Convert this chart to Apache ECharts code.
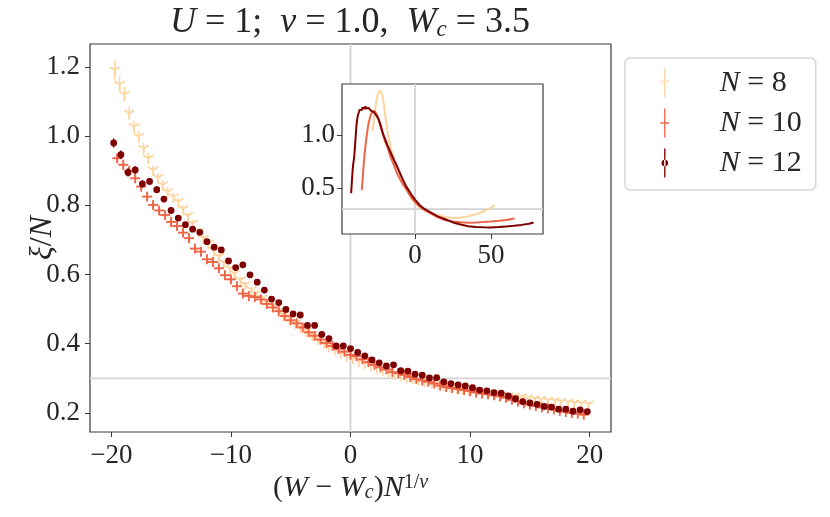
<!DOCTYPE html>
<html><head><meta charset="utf-8">
<script src="https://cdn.jsdelivr.net/npm/echarts@6/dist/echarts.min.js"></script>
<style>html,body{margin:0;padding:0;background:#fff}#c{width:830px;height:517px}</style>
</head><body><div id="c"></div>
<script>
const seriesNames = ['N = 8', 'N = 10', 'N = 12'];
const colors = ['#fdd49e', '#ef6548', '#7f0000'];

const mainXTicks = [-20, -10, 0, 10, 20];
const mainYTicks = [0.2, 0.4, 0.6, 0.8, 1.0, 1.2];
const insetXTicks = [0, 50];
const insetYTicks = [0.5, 1.0];
const refX = 0;
const refY = 0.3;

const n8X = [-19.7,-19.3,-18.9,-18.5,-18.1,-17.7,-17.3,-16.9,-16.5,-16.1,-15.7,-15.3,-14.8,-14.4,-14.0,-13.6,-13.2,-12.7,-12.3,-11.9,-11.4,-11.0,-10.6,-10.1,-9.7,-9.2,-8.8,-8.3,-7.9,-7.4,-7.0,-6.5,-6.0,-5.6,-5.1,-4.6,-4.2,-3.7,-3.2,-2.7,-2.2,-1.8,-1.3,-0.8,-0.3,0.2,0.7,1.2,1.7,2.2,2.7,3.2,3.7,4.2,4.7,5.2,5.7,6.2,6.8,7.3,7.8,8.3,8.9,9.4,9.9,10.5,11.0,11.5,12.1,12.6,13.2,13.7,14.3,14.8,15.4,15.9,16.5,17.1,17.6,18.2,18.7,19.3,19.9];
const n8Y = [1.191,1.150,1.121,1.066,1.027,0.999,0.965,0.936,0.902,0.880,0.859,0.840,0.825,0.811,0.790,0.770,0.748,0.725,0.705,0.690,0.670,0.652,0.635,0.618,0.603,0.585,0.572,0.557,0.545,0.532,0.520,0.508,0.496,0.484,0.472,0.460,0.449,0.437,0.425,0.413,0.402,0.393,0.383,0.374,0.366,0.358,0.351,0.344,0.337,0.331,0.325,0.319,0.314,0.309,0.304,0.300,0.296,0.292,0.288,0.284,0.280,0.277,0.273,0.270,0.267,0.264,0.261,0.258,0.256,0.253,0.250,0.248,0.246,0.243,0.241,0.239,0.237,0.235,0.233,0.231,0.229,0.228,0.226];
const n8Err = [0.027,0.023,0.021,0.019,0.018,0.017,0.016,0.015,0.014,0.013,0.013,0.012,0.012,0.011,0.011,0.010,0.010,0.010,0.009,0.009,0.009,0.009,0.008,0.008,0.008,0.008,0.007,0.007,0.007,0.007,0.007,0.006,0.006,0.006,0.006,0.006,0.006,0.005,0.005,0.005,0.005,0.005,0.005,0.005,0.005,0.005,0.004,0.004,0.004,0.004,0.004,0.004,0.004,0.004,0.004,0.004,0.004,0.004,0.004,0.004,0.004,0.004,0.004,0.004,0.004,0.004,0.004,0.004,0.004,0.004,0.004,0.004,0.004,0.004,0.004,0.004,0.004,0.004,0.004,0.004,0.004,0.004,0.004];

const n10X = [-19.5,-19.0,-18.5,-18.0,-17.5,-17.0,-16.5,-16.0,-15.5,-15.0,-14.5,-14.0,-13.5,-13.0,-12.5,-12.0,-11.5,-11.0,-10.5,-10.0,-9.5,-9.0,-8.5,-8.0,-7.5,-7.0,-6.5,-6.0,-5.5,-5.0,-4.5,-4.0,-3.5,-3.0,-2.5,-2.0,-1.5,-1.0,-0.5,0.0,0.5,1.0,1.5,2.0,2.5,3.0,3.5,4.0,4.5,5.0,5.5,6.0,6.5,7.0,7.5,8.0,8.5,9.0,9.5,10.0,10.5,11.0,11.5,12.0,12.5,13.0,13.5,14.0,14.5,15.0,15.5,16.0,16.5,17.0,17.5,18.0,18.5,19.0,19.5];
const n10Y = [0.936,0.917,0.899,0.878,0.854,0.825,0.801,0.785,0.772,0.752,0.740,0.721,0.705,0.675,0.666,0.644,0.636,0.618,0.598,0.586,0.566,0.545,0.538,0.535,0.528,0.515,0.505,0.494,0.480,0.468,0.459,0.447,0.433,0.423,0.412,0.402,0.394,0.385,0.377,0.368,0.364,0.355,0.347,0.339,0.332,0.326,0.318,0.315,0.310,0.304,0.298,0.294,0.290,0.285,0.279,0.275,0.272,0.269,0.266,0.263,0.259,0.256,0.254,0.251,0.248,0.244,0.238,0.233,0.228,0.224,0.220,0.216,0.213,0.210,0.206,0.203,0.200,0.198,0.195];
const n10Err = [0.012,0.011,0.011,0.010,0.010,0.009,0.009,0.009,0.008,0.008,0.008,0.008,0.007,0.007,0.007,0.007,0.007,0.006,0.006,0.006,0.006,0.006,0.006,0.005,0.005,0.005,0.005,0.005,0.005,0.005,0.005,0.005,0.004,0.004,0.004,0.004,0.004,0.004,0.004,0.004,0.004,0.004,0.004,0.004,0.004,0.004,0.004,0.004,0.004,0.004,0.004,0.004,0.004,0.004,0.004,0.004,0.004,0.004,0.004,0.004,0.004,0.004,0.004,0.004,0.004,0.004,0.004,0.004,0.004,0.004,0.004,0.004,0.004,0.004,0.004,0.004,0.004,0.004,0.004];

const n12X = [-19.8,-19.2,-18.6,-18.0,-17.4,-16.8,-16.2,-15.6,-15.0,-14.4,-13.8,-13.2,-12.6,-12.0,-11.4,-10.8,-10.2,-9.6,-9.0,-8.4,-7.8,-7.2,-6.6,-6.0,-5.4,-4.8,-4.2,-3.6,-3.0,-2.4,-1.8,-1.2,-0.6,0.0,0.6,1.2,1.8,2.4,3.0,3.6,4.2,4.8,5.4,6.0,6.6,7.2,7.8,8.4,9.0,9.6,10.2,10.8,11.4,12.0,12.6,13.2,13.8,14.4,15.0,15.6,16.2,16.8,17.4,18.0,18.6,19.2,19.8];
const n12Y = [0.980,0.946,0.895,0.902,0.862,0.869,0.845,0.818,0.785,0.763,0.744,0.731,0.722,0.695,0.679,0.671,0.639,0.620,0.628,0.599,0.578,0.555,0.529,0.519,0.499,0.486,0.483,0.453,0.453,0.427,0.415,0.394,0.394,0.386,0.375,0.365,0.353,0.345,0.336,0.339,0.322,0.321,0.312,0.309,0.301,0.302,0.290,0.285,0.281,0.278,0.273,0.266,0.264,0.259,0.257,0.249,0.241,0.233,0.229,0.225,0.219,0.217,0.211,0.211,0.205,0.209,0.204];
const n12Err = [0.013,0.012,0.012,0.011,0.011,0.010,0.010,0.009,0.009,0.008,0.008,0.008,0.007,0.007,0.007,0.007,0.006,0.006,0.006,0.006,0.006,0.005,0.005,0.005,0.005,0.005,0.005,0.005,0.005,0.004,0.004,0.004,0.004,0.004,0.004,0.004,0.004,0.004,0.004,0.004,0.004,0.004,0.004,0.004,0.004,0.004,0.004,0.004,0.004,0.004,0.004,0.004,0.004,0.004,0.004,0.004,0.004,0.004,0.004,0.004,0.004,0.004,0.004,0.004,0.004,0.004,0.004];

const in8X = [-28,-27.5,-27,-26.5,-26,-25.5,-25,-24.5,-24,-23.5,-23,-22.5,-22,-21.5,-21,-20.5,-20,-19,-18,-16,-14,-12,-10,-8,-6,-4,-2,0,3,6,10,15,20,25,30,35,40,45,50,52.5];
const in8Y = [1.035,1.09,1.15,1.21,1.26,1.31,1.35,1.38,1.40,1.415,1.42,1.42,1.405,1.38,1.34,1.29,1.23,1.12,1.03,0.88,0.79,0.70,0.615,0.55,0.496,0.445,0.398,0.362,0.322,0.292,0.267,0.242,0.226,0.218,0.222,0.234,0.252,0.278,0.315,0.34];
const in10X = [-35,-34.5,-34,-33.5,-33,-32.5,-32,-31.5,-31,-30.5,-30,-29.5,-29,-28.5,-28,-27.5,-27,-26.5,-26,-25,-24,-23,-22,-21,-20,-18,-16,-14,-12,-10,-8,-6,-4,-2,0,3,6,10,15,20,25,30,35,40,45,50,55,60,65.5];
const in10Y = [0.48,0.57,0.67,0.76,0.84,0.91,0.97,1.02,1.07,1.11,1.14,1.17,1.19,1.205,1.22,1.215,1.235,1.225,1.22,1.19,1.15,1.10,1.05,1.00,0.95,0.88,0.79,0.72,0.645,0.586,0.535,0.494,0.447,0.402,0.368,0.325,0.294,0.263,0.224,0.195,0.183,0.176,0.173,0.175,0.179,0.184,0.19,0.198,0.213];
const in12X = [-42,-41.5,-41,-40.5,-40,-39.5,-39,-38.5,-38,-37.5,-37,-36.5,-36,-35.5,-35,-34.5,-34,-33.5,-33,-32.5,-32,-31.5,-31,-30.5,-30,-29.5,-29,-28.5,-28,-27,-26,-25,-24,-23,-22,-21,-20,-18,-16,-14,-12,-10,-8,-6,-4,-2,0,3,6,10,15,20,25,30,35,40,45,50,55,60,65,70,75,78];
const in12Y = [0.45,0.56,0.67,0.74,0.79,0.88,0.99,1.09,1.15,1.19,1.21,1.235,1.24,1.25,1.235,1.26,1.25,1.265,1.245,1.27,1.25,1.265,1.24,1.255,1.245,1.25,1.23,1.24,1.225,1.215,1.20,1.175,1.15,1.11,1.06,1.01,0.975,0.90,0.835,0.77,0.71,0.645,0.58,0.52,0.475,0.43,0.39,0.34,0.305,0.272,0.232,0.205,0.175,0.155,0.14,0.133,0.129,0.128,0.131,0.137,0.143,0.152,0.163,0.175];

const FONT = 'Liberation Serif';
const TXT = '#262626';
const FRAME = '#3a3a3a';
const GRIDC = '#d3d3d3';

function zip3(xs, ys, es) { return xs.map((x, i) => [x, ys[i], es[i]]); }
function zip2(xs, ys) { return xs.map((x, i) => [x, ys[i]]); }

function makeRender(kind, color) {
  return function (params, api) {
    const x = api.value(0), y = api.value(1), e = api.value(2);
    const p = api.coord([x, y]);
    const t = api.coord([x, y + e]);
    const b = api.coord([x, y - e]);
    const ch = [{ type: 'line', shape: { x1: p[0], y1: t[1], x2: p[0], y2: b[1] }, style: { stroke: color, lineWidth: 1.5 } }];
    if (kind === 'tri') {
      const r = 6;
      const st = { stroke: color, lineWidth: 1.7 };
      ch.push({ type: 'line', shape: { x1: p[0], y1: p[1], x2: p[0], y2: p[1] + r }, style: st });
      ch.push({ type: 'line', shape: { x1: p[0], y1: p[1], x2: p[0] - 0.866 * r, y2: p[1] - 0.5 * r }, style: st });
      ch.push({ type: 'line', shape: { x1: p[0], y1: p[1], x2: p[0] + 0.866 * r, y2: p[1] - 0.5 * r }, style: st });
    } else if (kind === 'plus') {
      const r = 5;
      const st = { stroke: color, lineWidth: 1.9 };
      ch.push({ type: 'line', shape: { x1: p[0] - r, y1: p[1], x2: p[0] + r, y2: p[1] }, style: st });
      ch.push({ type: 'line', shape: { x1: p[0], y1: p[1] - r, x2: p[0], y2: p[1] + r }, style: st });
    } else {
      ch.push({ type: 'circle', shape: { cx: p[0], cy: p[1], r: 3.4 }, style: { fill: color } });
    }
    return { type: 'group', children: ch };
  };
}

function refRender(params, api) {
  const cs = params.coordSys;
  const p = api.coord([api.value(0), api.value(1)]);
  const st = { stroke: GRIDC, lineWidth: 1.8 };
  return { type: 'group', children: [
    { type: 'line', shape: { x1: cs.x, y1: p[1], x2: cs.x + cs.width, y2: p[1] }, style: st },
    { type: 'line', shape: { x1: p[0], y1: cs.y, x2: p[0], y2: cs.y + cs.height }, style: st }
  ] };
}

const fmtNum = v => (v < 0 ? '\u2212' + Math.abs(v) : String(v));
const fmt1 = v => v.toFixed(1);

const iconBar = 'M5.3 0 H6.7 V30 H5.3 Z ';
const icons = [
  'path://' + iconBar + 'M6 15.6 L1.4 12.9 L2.0 12.0 L6.6 14.7 Z M6 15.6 L10.6 12.9 L10.0 12.0 L5.4 14.7 Z M0 0 L0.01 0 Z M12 0 L12.01 0 Z',
  'path://' + iconBar + 'M1.5 14.2 H10.5 V15.8 H1.5 Z M0 0 L0.01 0 Z M12 0 L12.01 0 Z',
  'path://' + iconBar + 'M2.6 15 A3.4 3.4 0 1 0 9.4 15 A3.4 3.4 0 1 0 2.6 15 Z M0 0 L0.01 0 Z M12 0 L12.01 0 Z'
];

function richFor(fs, sub) {
  return {
    i: { fontFamily: FONT, fontStyle: 'italic', fontSize: fs, color: TXT },
    s: { fontFamily: FONT, fontStyle: 'italic', fontSize: sub, color: TXT, verticalAlign: 'bottom', lineHeight: sub * 0.9 },
    p: { fontFamily: FONT, fontSize: sub, color: TXT, verticalAlign: 'top', lineHeight: sub * 0.9 },
    pi: { fontFamily: FONT, fontStyle: 'italic', fontSize: sub, color: TXT, verticalAlign: 'top', lineHeight: sub * 0.9 }
  };
}

const chart = echarts.init(document.getElementById('c'), null, { renderer: 'canvas' });

const markers = ['tri', 'plus', 'dot'];
const mainData = [zip3(n8X, n8Y, n8Err), zip3(n10X, n10Y, n10Err), zip3(n12X, n12Y, n12Err)];
const insetData = [zip2(in8X, in8Y), zip2(in10X, in10Y), zip2(in12X, in12Y)];

const series = [
  { type: 'custom', xAxisIndex: 0, yAxisIndex: 0, z: 1, silent: true, renderItem: refRender, data: [[refX, refY]] },
  { type: 'custom', xAxisIndex: 1, yAxisIndex: 1, z: 11, silent: true, renderItem: refRender, data: [[refX, refY]] }
];
for (let k = 0; k < 3; k++) {
  series.push({ type: 'custom', name: seriesNames[k], xAxisIndex: 0, yAxisIndex: 0, z: 3 + k,
    itemStyle: { color: colors[k] }, renderItem: makeRender(markers[k], colors[k]), data: mainData[k] });
}
for (let k = 0; k < 3; k++) {
  series.push({ type: 'line', xAxisIndex: 1, yAxisIndex: 1, z: 12 + k, showSymbol: false, symbol: 'none',
    lineStyle: { color: colors[k], width: 2 }, itemStyle: { color: colors[k] }, data: insetData[k], silent: true });
}

function axisCommon(ticks, fmt, fs, margin) {
  return {
    axisLine: { show: false, onZero: false },
    axisTick: { show: true, length: 5, lineStyle: { color: FRAME, width: 1 }, customValues: ticks },
    axisLabel: { show: true, customValues: ticks, formatter: fmt, fontFamily: FONT, fontSize: fs, color: TXT, margin: margin },
    splitLine: { show: false }
  };
}

const option = {
  animation: false,
  backgroundColor: '#fff',
  title: {
    text: '{i|U} = 1;  {i|\u03bd} = 1.0,  {i|W}{s|c} = 3.5',
    left: 345, top: 0, textAlign: 'center',
    textStyle: { fontFamily: FONT, fontSize: 36, fontWeight: 'normal', color: TXT, rich: richFor(36, 23) }
  },
  legend: {
    orient: 'vertical', left: 625, top: 58,
    padding: [10, 14, 12, 34], itemGap: 10, itemWidth: 12, itemHeight: 29,
    borderColor: '#d6d6d6', borderWidth: 1.5, borderRadius: 5, backgroundColor: '#fff',
    data: seriesNames.map((n, i) => ({ name: n, icon: icons[i] })),
    formatter: n => '{i|N} = ' + n.split('= ')[1],
    textStyle: { fontFamily: FONT, fontSize: 30, color: TXT, padding: [0, 0, 0, 44], rich: richFor(30, 20) }
  },
  grid: [
    { left: 90, top: 44, width: 521, height: 388, show: true, borderColor: FRAME, borderWidth: 1.2, backgroundColor: '#fff', z: 0, outerBoundsMode: 'none', containLabel: false },
    { left: 342, top: 84, width: 201, height: 150, show: true, borderColor: FRAME, borderWidth: 1.2, backgroundColor: '#fff', z: 10, outerBoundsMode: 'none', containLabel: false }
  ],
  xAxis: [
    Object.assign({ type: 'value', gridIndex: 0, min: -21.78, max: 21.78,
      name: '({i|W} \u2212 {i|W}{s|c}){i|N}{p|1/}{pi|\u03bd}', nameLocation: 'middle', nameGap: 41, nameMoveOverlap: false,
      nameTextStyle: { fontFamily: FONT, fontSize: 30, color: TXT, rich: richFor(30, 20) } }, axisCommon(mainXTicks, fmtNum, 27, 10)),
    Object.assign({ type: 'value', gridIndex: 1, min: -48, max: 84.2, z: 11 }, axisCommon(insetXTicks, fmtNum, 27, 8))
  ],
  yAxis: [
    Object.assign({ type: 'value', gridIndex: 0, min: 0.145, max: 1.266,
      name: '{i|\u03be}/{i|N}', nameLocation: 'middle', nameGap: 31, nameMoveOverlap: false,
      nameTextStyle: { fontFamily: FONT, fontSize: 32, color: TXT, rich: richFor(32, 20) } }, axisCommon(mainYTicks, fmt1, 27, 10)),
    Object.assign({ type: 'value', gridIndex: 1, min: 0.066, max: 1.481, z: 11 }, axisCommon(insetYTicks, fmt1, 27, 7))
  ],
  series: series
};
chart.setOption(option);
</script></body></html>
